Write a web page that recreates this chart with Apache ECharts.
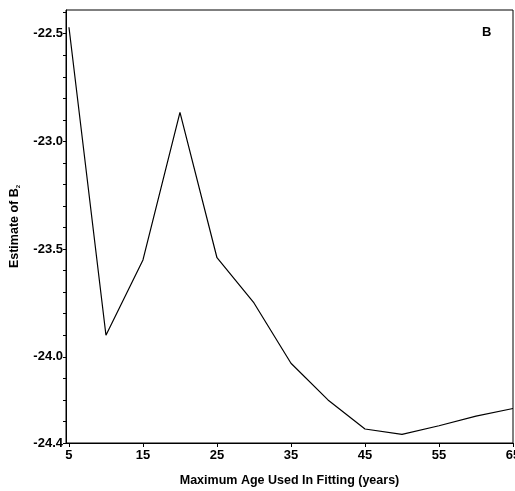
<!DOCTYPE html>
<html><head><meta charset="utf-8">
<script src="https://cdn.jsdelivr.net/npm/echarts@6/dist/echarts.min.js"></script>
<style>html,body{margin:0;padding:0;background:#fff}#c{width:515px;height:491px}</style>
</head><body><div id="c"></div>
<script>
var maxAge = [5, 10, 15, 20, 25, 30, 35, 40, 45, 50, 55, 60, 65];
var estimateB2 = [-22.47, -23.90, -23.55, -22.865, -23.54, -23.75, -24.03, -24.20, -24.335, -24.36, -24.32, -24.275, -24.24];
var xTickLabels = [5, 15, 25, 35, 45, 55, 65];
var yTickLabels = [-24.4, -24.0, -23.5, -23.0, -22.5];
var yMinorTicks = [];
for (var i = 0; i <= 20; i++) yMinorTicks.push(Math.round((-24.4 + i * 0.1) * 10) / 10);

var font = 'Liberation Sans, Arial, sans-serif';
var chart = echarts.init(document.getElementById('c'));
chart.setOption({
  animation: false,
  grid: {left: 66, right: 2, top: 10, bottom: 48, show: true, borderColor: '#000', borderWidth: 1, outerBoundsMode: 'none', containLabel: false},
  xAxis: {
    type: 'value', min: 4.6, max: 65,
    name: 'Maximum Age Used In Fitting (years)', nameLocation: 'middle', nameGap: 31,
    nameTextStyle: {fontFamily: font, fontWeight: 'bold', fontSize: 12.5, color: '#000'},
    axisLine: {show: true, lineStyle: {color: '#000', width: 1}},
    axisTick: {show: true, length: 4, customValues: xTickLabels, lineStyle: {color: '#000'}},
    axisLabel: {customValues: xTickLabels, fontFamily: font, fontWeight: 'bold', fontSize: 13, color: '#000', margin: 6, hideOverlap: false},
    splitLine: {show: false}
  },
  yAxis: {
    type: 'value', min: -24.4, max: -22.39,
    name: '{a|Estimate of B}{s|2}', nameLocation: 'middle', nameGap: 45,
    nameTextStyle: {fontFamily: font, fontWeight: 'bold', fontSize: 12, color: '#000',
      rich: {a: {fontFamily: font, fontWeight: 'bold', fontSize: 12.5, color: '#000'},
             s: {fontFamily: font, fontWeight: 'bold', fontSize: 6, color: '#000', verticalAlign: 'bottom', padding: [6, 0, 0, 0]}}},
    axisLine: {show: true, lineStyle: {color: '#000', width: 1}},
    axisTick: {show: true, length: 3, customValues: yMinorTicks, lineStyle: {color: '#000'}},
    axisLabel: {customValues: yTickLabels, fontFamily: font, fontWeight: 'bold', fontSize: 13, color: '#000', margin: 3,
      formatter: function (v) { return v.toFixed(1); }},
    splitLine: {show: false}
  },
  graphic: [{type: 'text', left: 482, top: 26, style: {text: 'B', font: 'bold 13px ' + font, fill: '#000'}}],
  series: [{
    type: 'line', data: maxAge.map(function (x, i) { return [x, estimateB2[i]]; }),
    symbol: 'none', lineStyle: {color: '#000', width: 1.2}
  }]
});
</script></body></html>
